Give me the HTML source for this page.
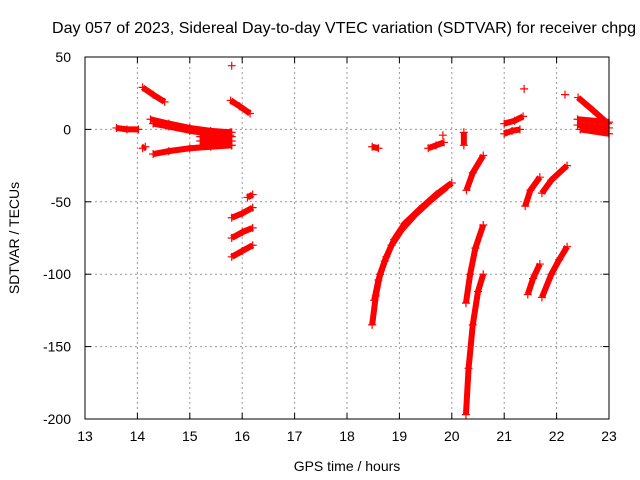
<!DOCTYPE html>
<html><head><meta charset="utf-8"><style>
body{margin:0;background:#fff}
svg{display:block;font-family:"Liberation Sans",sans-serif}
</style></head><body>
<svg id="chart" width="640" height="480">
<text x="344" y="33" font-size="16" text-anchor="middle" textLength="584" lengthAdjust="spacingAndGlyphs">Day 057 of 2023, Sidereal Day-to-day VTEC variation (SDTVAR) for receiver chpg</text>
<text x="347" y="471" font-size="14" text-anchor="middle">GPS time / hours</text>
<text x="0" y="0" font-size="14" text-anchor="middle" transform="translate(19,238) rotate(-90)">SDTVAR / TECUs</text>
<g id="grid"></g><g id="marks"></g>
<rect x="85" y="57" width="524" height="362" fill="none" stroke="#000" stroke-width="1"/>
</svg>
<script>
const xTicks=[13,14,15,16,17,18,19,20,21,22,23];
const yTicks=[50,0,-50,-100,-150,-200];
const trackA=[[13.6,1],[13.8,0],[14.02,0]];
const trackB=[[14.1,29],[14.3,24],[14.52,19]];
const trackC=[[14.25,7],[14.6,4],[15.0,1],[15.4,-1],[15.77,-2]];
const trackC2=[[14.3,4],[14.6,2],[15.0,-1],[15.4,-3],[15.77,-4]];
const trackD=[[14.3,-17],[14.6,-15],[15.0,-13],[15.4,-12],[15.8,-11]];
const block1=[[15.2,-2],[15.8,-2]];
const block2=[[15.2,-5],[15.8,-5]];
const block3=[[15.2,-8],[15.8,-8]];
const block4=[[15.2,-11],[15.8,-11]];
const blobE=[[14.1,-13],[14.15,-12]];
const pointE=[[15.8,44]];
const trackF=[[15.78,20],[15.95,16],[16.15,11]];
const trackG=[[16.1,-47],[16.2,-45]];
const trackH1=[[15.8,-61],[16.0,-58],[16.2,-54]];
const trackH2=[[15.8,-75],[16.0,-71],[16.2,-68]];
const trackH3=[[15.8,-88],[16.0,-84],[16.2,-80]];
const blobI=[[18.48,-12],[18.6,-13]];
const trackJ=[[18.48,-135],[18.55,-115],[18.63,-100],[18.75,-88],[18.9,-76],[19.1,-65],[19.39,-55],[19.7,-45],[20.0,-37]];
const trackJ2=[[18.52,-118],[18.6,-104],[18.72,-91],[18.85,-80],[19.05,-69],[19.3,-59],[19.6,-49],[19.9,-40]];
const blobK=[[19.55,-13],[19.7,-11],[19.85,-9]];
const pointK=[[19.83,-4]];
const trackL=[[20.23,-2],[20.23,-11]];
const trackM=[[20.28,-42],[20.4,-30],[20.6,-18]];
const trackN=[[20.27,-197],[20.32,-165],[20.4,-135],[20.5,-112],[20.6,-100]];
const trackO=[[20.27,-120],[20.35,-100],[20.45,-82],[20.6,-66]];
const trackP1=[[21.0,4],[21.2,6],[21.36,9]];
const trackP2=[[21.0,-3],[21.15,-1],[21.3,0]];
const pointP=[[21.38,28]];
const trackQ=[[21.4,-53],[21.5,-42],[21.68,-33]];
const trackR=[[21.72,-44],[21.9,-35],[22.2,-25]];
const trackS=[[21.45,-114],[21.55,-103],[21.68,-93]];
const trackT=[[21.72,-116],[21.9,-100],[22.05,-90],[22.2,-81]];
const pointU=[[22.16,24]];
const trackV=[[22.41,22],[22.7,13],[22.98,4]];
const trackW1=[[22.4,7],[23.0,5]];
const trackW2=[[22.4,3],[23.0,1]];
const trackW3=[[22.45,0],[23.0,-3]];
const tracks=[trackA,trackB,trackC,trackC2,trackD,block1,block2,block3,block4,blobE,pointE,trackF,trackG,trackH1,trackH2,trackH3,blobI,trackJ,trackJ2,blobK,pointK,trackL,trackM,trackN,trackO,trackP1,trackP2,pointP,trackQ,trackR,trackS,trackT,pointU,trackV,trackW1,trackW2,trackW3];

const X0=85,X1=609,Y0=419,Y1=57;
const sx=h=>X0+(h-13)/10*(X1-X0);
const sy=v=>Y0-(v+200)/250*(Y0-Y1);
const NS='http://www.w3.org/2000/svg';
const grid=document.getElementById('grid'),marks=document.getElementById('marks');
function mk(tag,attrs,parent){const e=document.createElementNS(NS,tag);for(const k in attrs)e.setAttribute(k,attrs[k]);parent.appendChild(e);return e;}
xTicks.forEach(t=>{const x=sx(t);
 if(t>13&&t<23){const g=mk('line',{x1:x,x2:x,y1:Y1,y2:Y0,stroke:'#999','stroke-dasharray':'2,3'},grid);
 
 }
 mk('line',{x1:x,x2:x,y1:Y0,y2:Y0-6,stroke:'#000'},grid);
 mk('line',{x1:x,x2:x,y1:Y1,y2:Y1+6,stroke:'#000'},grid);
 const l=mk('text',{x:x,y:Y0+22,'font-size':14,'text-anchor':'middle'},grid);l.textContent=t;
 
 });
yTicks.forEach(t=>{const y=sy(t);
 if(t<50&&t>-200){const g=mk('line',{x1:X0,x2:X1,y1:y,y2:y,stroke:'#999','stroke-dasharray':'2,3'},grid);
 
 }
 mk('line',{x1:X0,x2:X0+6,y1:y,y2:y,stroke:'#000'},grid);
 mk('line',{x1:X1,x2:X1-6,y1:y,y2:y,stroke:'#000'},grid);
 const l=mk('text',{x:X0-14,y:y+5,'font-size':14,'text-anchor':'end'},grid);l.textContent=t;
 
 });
tracks.forEach(tr=>{
 if(tr.length>1){const p=mk('polyline',{points:tr.map(d=>sx(d[0])+','+sy(d[1])).join(' '),fill:'none',stroke:'#f00','stroke-width':6,'stroke-linejoin':'round'},marks);
 
 }
 tr.forEach(d=>{const x=sx(d[0]),y=sy(d[1]);
  const m=mk('path',{d:`M${x-4},${y}H${x+4}M${x},${y-4}V${y+4}`,stroke:'#f00','stroke-width':1.2},marks);
  
  });
});
</script>
</body></html>
